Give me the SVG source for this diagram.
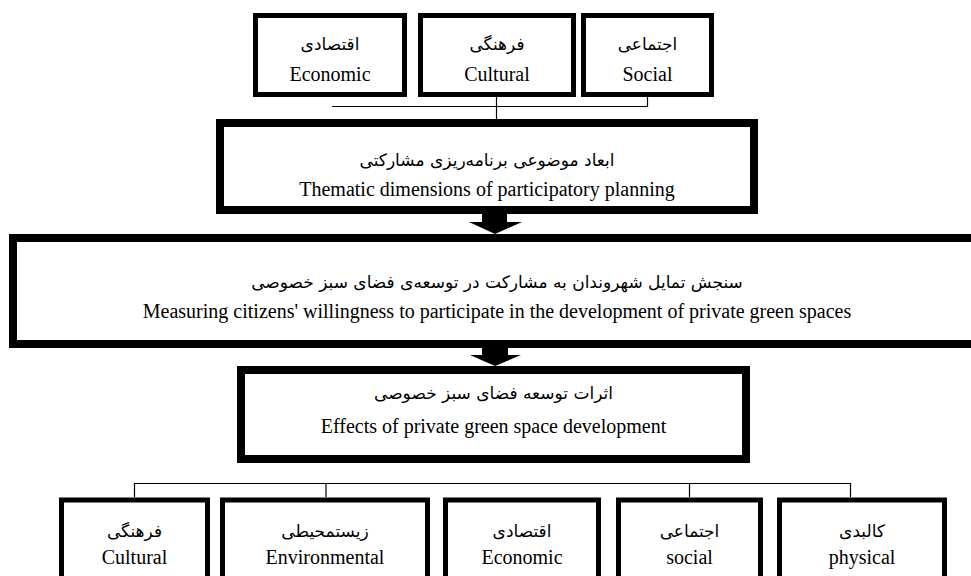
<svg xmlns="http://www.w3.org/2000/svg" width="971" height="576" viewBox="0 0 971 576">
<style>
.box{fill:#fff;stroke:#000}
.b5{stroke-width:5}
.b8{stroke-width:8}
.en{font-family:"Liberation Serif","Times New Roman",serif;font-size:20px;text-anchor:middle;fill:#000}
.fa{font-family:"DejaVu Sans","Noto Sans",sans-serif;font-size:17px;text-anchor:middle;fill:#000}
.ln{stroke:#000;stroke-width:1.2;fill:none}
.arr{fill:#000}
</style>
<rect width="971" height="576" fill="#fff"/>
<g id="connectors">
<path class="ln" d="M332 106.5H647.5V97"/>
<path class="ln" d="M496.5 97V119"/>
<path class="ln" d="M134.5 497V483.5H850.5V497M326 483.5V497M689.5 483.5V497"/>
<polygon class="arr" points="482,214 507,214 507,222 522,222 495,234 469,222 482,222"/>
<polygon class="arr" points="482,347 508,347 508,355 521,355 495,366 470,355 482,355"/>
</g>
<g id="top-economic"><rect class="box b5" x="255.5" y="15.5" width="149" height="79"/><text class="fa" x="330" y="50">اقتصادی</text><text class="en" x="330" y="81">Economic</text></g>
<g id="top-cultural"><rect class="box b5" x="420.5" y="15.5" width="153" height="79"/><text class="fa" x="497" y="50">فرهنگی</text><text class="en" x="497" y="81">Cultural</text></g>
<g id="top-social"><rect class="box b5" x="583.5" y="15.5" width="128" height="79"/><text class="fa" x="647.5" y="50">اجتماعی</text><text class="en" x="647.5" y="81">Social</text></g>
<g id="thematic"><rect class="box b8" x="220" y="123" width="534" height="87"/><text class="fa" x="487" y="166">ابعاد موضوعی برنامه‌ریزی مشارکتی</text><text class="en" x="487" y="196">Thematic dimensions of participatory planning</text></g>
<g id="measuring"><rect class="box b8" x="13" y="238" width="970" height="106"/><text class="fa" x="497" y="288">سنجش تمایل شهروندان به مشارکت در توسعه‌ی فضای سبز خصوصی</text><text class="en" x="497" y="318">Measuring citizens' willingness to participate in the development of private green spaces</text></g>
<g id="effects"><rect class="box b8" x="241" y="370" width="505" height="89"/><text class="fa" x="493.5" y="399">اثرات توسعه فضای سبز خصوصی</text><text class="en" x="493.5" y="433">Effects of private green space development</text></g>
<g id="bottom-cultural"><rect class="box b5" x="61.5" y="500" width="146" height="90"/><text class="fa" x="134.5" y="537">فرهنگی</text><text class="en" x="134.5" y="564">Cultural</text></g>
<g id="bottom-environmental"><rect class="box b5" x="222.5" y="500" width="205" height="90"/><text class="fa" x="325" y="537">زیستمحیطی</text><text class="en" x="325" y="564">Environmental</text></g>
<g id="bottom-economic"><rect class="box b5" x="445.5" y="500" width="153" height="90"/><text class="fa" x="522" y="537">اقتصادی</text><text class="en" x="522" y="564">Economic</text></g>
<g id="bottom-social"><rect class="box b5" x="618.5" y="500" width="142" height="90"/><text class="fa" x="689.5" y="537">اجتماعی</text><text class="en" x="689.5" y="564">social</text></g>
<g id="bottom-physical"><rect class="box b5" x="779.5" y="500" width="165" height="90"/><text class="fa" x="862" y="537">کالبدی</text><text class="en" x="862" y="564">physical</text></g>
</svg>
